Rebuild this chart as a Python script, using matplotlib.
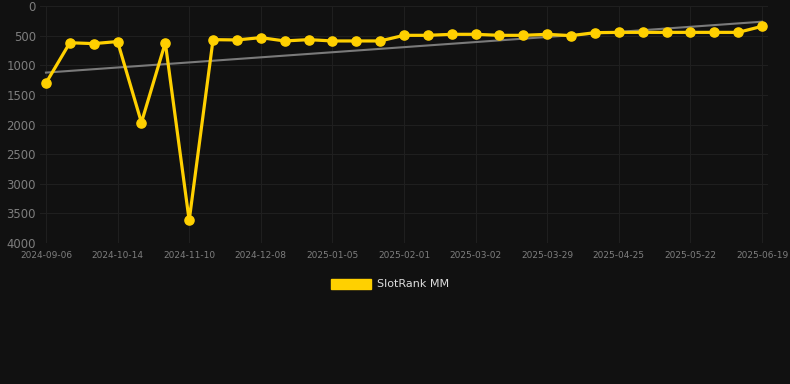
import matplotlib
matplotlib.use("Agg")
import matplotlib.pyplot as plt
from matplotlib.patches import Patch
import numpy as np

dates = ["2024-09-06", "2024-09-19", "2024-10-01", "2024-10-14", "2024-10-23", "2024-11-01",
         "2024-11-10", "2024-11-19", "2024-11-29", "2024-12-08", "2024-12-17", "2024-12-27",
         "2025-01-05", "2025-01-14", "2025-01-23", "2025-02-01", "2025-02-11", "2025-02-20",
         "2025-03-02", "2025-03-11", "2025-03-20", "2025-03-29", "2025-04-07", "2025-04-16",
         "2025-04-25", "2025-05-04", "2025-05-13", "2025-05-22", "2025-05-31", "2025-06-10",
         "2025-06-19"]
ranks = [1300, 620, 635, 600, 1967, 620, 3620, 568, 573, 534, 590, 568, 590, 590, 590,
         495, 495, 478, 478, 495, 495, 478, 500, 450, 445, 445, 445, 445, 445, 445, 343]
trend_start = 1124
trend_end = 265
series_name = "SlotRank MM"

bg = "#111111"
fig = plt.figure(figsize=(7.9, 3.84), dpi=100, facecolor=bg)
ax = fig.add_axes([40/790, 1-243/384, (768-40)/790, (243-6)/384], facecolor=bg)

x = np.arange(len(dates))
ax.plot([x[0], x[-1]], [trend_start, trend_end], color="#7a7a7a", lw=1.5, zorder=2)
ax.plot(x, ranks, color="#FFD000", lw=2.3, marker="o", markersize=6.6, zorder=3)

ax.set_xlim(-0.25, len(dates) - 0.75)
ax.set_ylim(4000, 0)
ax.set_yticks(np.arange(0, 4001, 500))
ax.set_xticks(x[::3])
ax.set_xticklabels(dates[::3])
ax.grid(True, color="#1f1f1f", lw=0.8)
for s in ax.spines.values():
    s.set_visible(False)
ax.tick_params(axis="y", length=0, colors="#7e7e7e", labelsize=8.4, pad=3)
ax.tick_params(axis="x", length=0, colors="#7e7e7e", labelsize=6.5, pad=6)

handle = Patch(facecolor="#FFD000", edgecolor="#FFD000")
fig.legend([handle], [series_name], loc="center", bbox_to_anchor=(390/790, 1-284/384),
           frameon=False, labelcolor="#dddddd", fontsize=8, handlelength=3.6,
           handleheight=1.0, handletextpad=0.6)

fig.savefig("out.png", dpi=100, facecolor=bg)
